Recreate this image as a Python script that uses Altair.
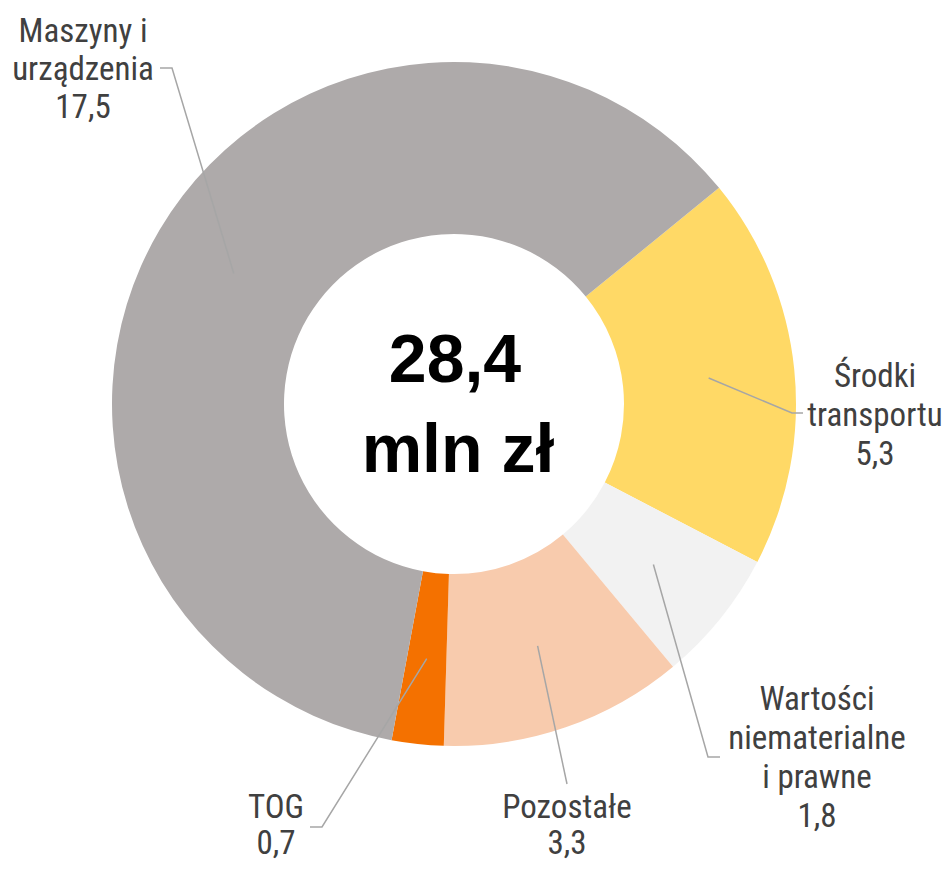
import math
import altair as alt
import pandas as pd

# ---- data ----
categories = ["Środki transportu", "Wartości niematerialne i prawne", "Pozostałe", "TOG", "Maszyny i urządzenia"]
label_lines = [["Środki", "transportu"], ["Wartości", "niematerialne", "i prawne"], ["Pozostałe"], ["TOG"], ["Maszyny i", "urządzenia"]]
values = [5.3, 1.8, 3.3, 0.7, 17.5]
total_text = ["28,4", "mln zł"]

# ---- styles / layout ----
colors = ["#FFD966", "#F2F2F2", "#F8CBAD", "#F47100", "#AEAAAA"]
W, H = 935, 857
CX, CY = 446, 396
R_OUT, R_IN = 342, 170
START_DEG = 50.8
LABEL_FONT = "Liberation Sans Narrow, Roboto Condensed, DejaVu Sans Condensed, Roboto"
CENTER_FONT = "Liberation Sans, Arial, Roboto"
# label block: centre x, first baseline (relative to the donut centre), line height
label_anchor = [(421, -17, 39), (363, 306, 39), (113, 414, 36), (-178, 414, 36), (-371, -362, 38)]
# leader line bend / end points, relative to the donut centre
leader_pts = [[(338, 9), (349, 9)], [(254, 353), (266, 353)], [(113, 380)],
              [(-132, 423), (-144, 423)], [(-282, -336), (-294, -336)]]
center_pos = [(1, -22), (4, 68)]

start = math.radians(START_DEG)
total = sum(values)

arc_df = pd.DataFrame({"cat": categories, "value": values, "ord": list(range(len(values)))})

# leader lines: start in middle of ring at the slice's mid-angle
rows = []
cum = 0.0
for i, (c, v) in enumerate(zip(categories, values)):
    mid = start + 2 * math.pi * (cum + v / 2) / total
    cum += v
    rmid = (R_OUT + R_IN) / 2
    pts = [(rmid * math.sin(mid), -rmid * math.cos(mid))] + leader_pts[i]
    for j, (px, py) in enumerate(pts):
        rows.append({"cat": c, "idx": j, "x": px, "y": py})
line_df = pd.DataFrame(rows)

trows = []
for i, (lines, v) in enumerate(zip(label_lines, values)):
    ax, ay, lh = label_anchor[i]
    all_lines = lines + [f"{v:.1f}".replace(".", ",")]
    for j, t in enumerate(all_lines):
        trows.append({"text": t, "x": ax, "y": ay + j * lh})
text_df = pd.DataFrame(trows)

center_df = pd.DataFrame({"text": total_text,
                          "x": [p[0] for p in center_pos],
                          "y": [p[1] for p in center_pos]})

xs = alt.Scale(domain=[-CX, W - CX], nice=False, zero=False)
ys = alt.Scale(domain=[-CY, H - CY], nice=False, zero=False, reverse=True)

arcs = alt.Chart(arc_df).mark_arc(radius=R_OUT, radius2=R_IN).encode(
    theta=alt.Theta("value:Q", stack=True, scale=alt.Scale(range=[start, start + 2 * math.pi])),
    color=alt.Color("cat:N", scale=alt.Scale(domain=categories, range=colors), legend=None),
    order=alt.Order("ord:Q"),
    x=alt.value(CX),
    y=alt.value(CY),
)

leaders = alt.Chart(line_df).mark_line(color="#A6A6A6", strokeWidth=1.5).encode(
    x=alt.X("x:Q", scale=xs, axis=None),
    y=alt.Y("y:Q", scale=ys, axis=None),
    detail="cat:N",
    order="idx:Q",
)

labels = alt.Chart(text_df).mark_text(font=LABEL_FONT, fontSize=33, color="#404040",
                                      align="center", baseline="alphabetic").encode(
    x=alt.X("x:Q", scale=xs, axis=None),
    y=alt.Y("y:Q", scale=ys, axis=None),
    text="text:N",
)

center = alt.Chart(center_df).mark_text(font=CENTER_FONT, fontSize=68, fontWeight="bold", color="#000000",
                                        align="center", baseline="alphabetic").encode(
    x=alt.X("x:Q", scale=xs, axis=None),
    y=alt.Y("y:Q", scale=ys, axis=None),
    text="text:N",
)

chart = alt.layer(arcs, leaders, labels, center).properties(
    width=W, height=H, padding=0, autosize="none"
).configure_view(strokeWidth=0)

chart.save("out.html", embed_options={"renderer": "svg", "actions": False})
